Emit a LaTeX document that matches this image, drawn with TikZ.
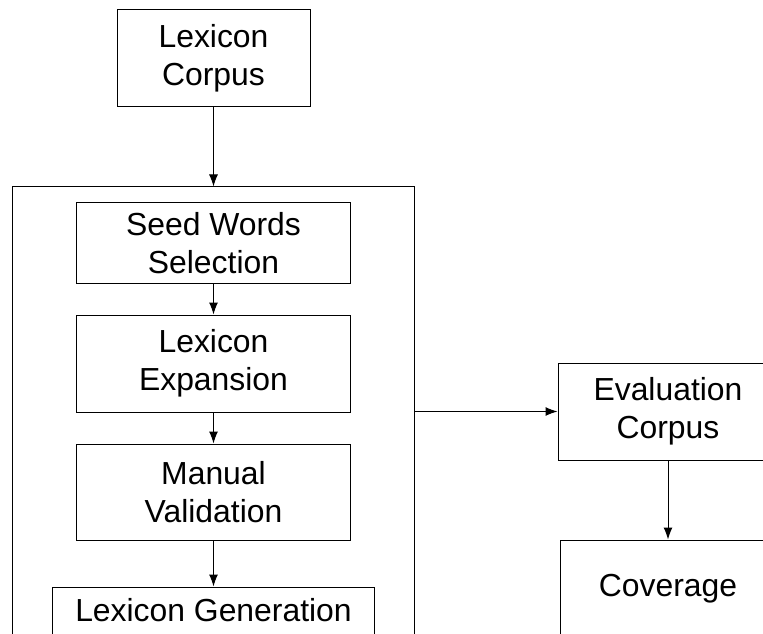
\documentclass[tikz,border=0pt]{standalone}
\usepackage{tikz}
\usepackage{xcolor}
\usepackage{fontspec}
\setmainfont{Liberation Sans}
\usetikzlibrary{arrows.meta}

\tikzset{
	stage/.style={draw, line width=1bp, align=center, inner sep=0pt,
		font=\fontsize{32}{38}\selectfont},
	flow/.style={line width=1bp, -{Latex[length=12bp,width=9bp]}}
}

\begin{document}
\begin{tikzpicture}[x=1bp,y=-1bp]
				\clip (0,0) rectangle (763,634);
				\node[stage, minimum width=193bp, minimum height=97bp] (corpus) at (213.5,58.5) {Lexicon\\Corpus};

				% pipeline
				\node[draw, line width=1bp, minimum width=401bp, minimum height=513bp] (pipeline) at (213.5,443.5) {};
				\node[stage, minimum width=273bp, minimum height=80bp] (seed) at (213.5,243) {Seed Words\\Selection};
				\node[stage, minimum width=273bp, minimum height=97bp] (expansion) at (213.5,363.5) {Lexicon\\Expansion};
				\node[stage, minimum width=273bp, minimum height=96bp] (validation) at (213.5,492) {Manual\\Validation};
				\node[stage, minimum width=321bp, minimum height=84bp] (generation) at (213.5,629) {Lexicon Generation\\\mbox{}};

				% evaluation
				\node[stage, minimum width=220bp, minimum height=97bp] (evalcorpus) at (668,411.5) {Evaluation\\Corpus};
				\node[stage, minimum width=216bp, minimum height=129bp] (coverage) at (668,604.5) {Coverage\\\mbox{}};

				\draw[flow] (corpus) -- (pipeline);
				\draw[flow] (seed) -- (expansion);
				\draw[flow] (expansion) -- (validation);
				\draw[flow] (validation) -- (generation);
				\draw[flow] (evalcorpus.west -| pipeline.east) -- (evalcorpus.west);
				\draw[flow] (evalcorpus) -- (coverage);
			\end{tikzpicture}
\end{document}
